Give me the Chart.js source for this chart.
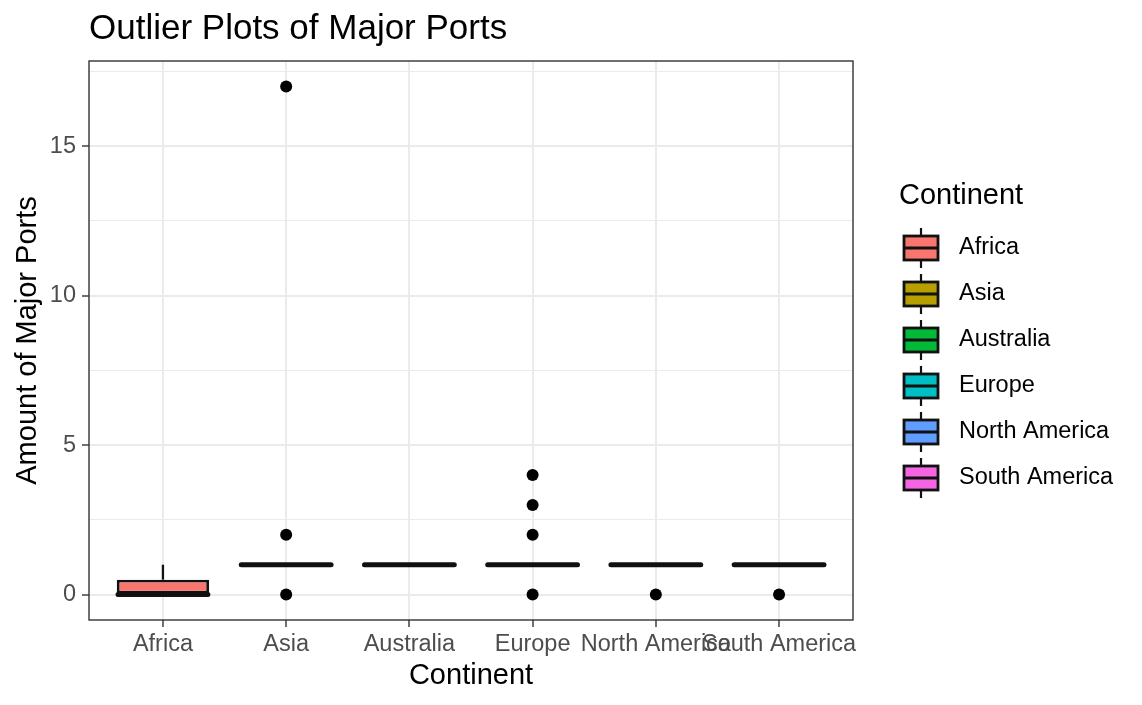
<!DOCTYPE html>
<html><head><meta charset="utf-8">
<script src="https://cdn.jsdelivr.net/npm/chart.js@4/dist/chart.umd.min.js"></script>
<style>html,body{margin:0;padding:0;background:#fff}canvas{display:block}</style>
</head><body>
<canvas id="c" width="1142" height="705"></canvas>
<script>
const chartTitle = 'Outlier Plots of Major Ports';
const xTitle = 'Continent';
const yTitle = 'Amount of Major Ports';
const legendTitle = 'Continent';
const categories = ['Africa', 'Asia', 'Australia', 'Europe', 'North America', 'South America'];
const q1 = [0, 1, 1, 1, 1, 1];
const medians = [0, 1, 1, 1, 1, 1];
const q3 = [0.5, 1, 1, 1, 1, 1];
const whiskerLow = [0, 1, 1, 1, 1, 1];
const whiskerHigh = [1, 1, 1, 1, 1, 1];
const outliers = [[], [17, 2, 0], [], [4, 3, 2, 0], [0], [0]];
const fillColors = ['#F8766D', '#B79F00', '#00BA38', '#00BFC4', '#619CFF', '#F564E3'];
const yMajorTicks = [0, 5, 10, 15];

const FONT = "'Liberation Sans', Arial, Helvetica, sans-serif";
const INK = '#111111';

const boxData = categories.map((c, i) => ({ x: i + 1, y: [q1[i], q3[i]] }));
const outlierData = outliers.flatMap((arr, i) => arr.map(v => ({ x: i + 1, y: v })));

const boxPlugin = {
  id: 'boxParts',
  beforeDatasetsDraw(chart) {
    const { ctx, scales: { x, y } } = chart;
    ctx.save();
    ctx.strokeStyle = INK;
    ctx.lineWidth = 2.3;
    categories.forEach((c, i) => {
      const px = x.getPixelForValue(i + 1);
      ctx.beginPath();
      ctx.moveTo(px, y.getPixelForValue(q3[i]));
      ctx.lineTo(px, y.getPixelForValue(whiskerHigh[i]));
      ctx.moveTo(px, y.getPixelForValue(q1[i]));
      ctx.lineTo(px, y.getPixelForValue(whiskerLow[i]));
      ctx.stroke();
    });
    ctx.restore();
  },
  afterDatasetsDraw(chart) {
    const { ctx, scales: { x, y }, chartArea: a } = chart;
    const meta = chart.getDatasetMeta(0);
    ctx.save();
    ctx.strokeStyle = INK;
    ctx.lineWidth = 5;
    ctx.lineCap = 'round';
    categories.forEach((c, i) => {
      const px = x.getPixelForValue(i + 1);
      const half = meta.data[i].width / 2;
      const py = y.getPixelForValue(medians[i]);
      ctx.beginPath();
      ctx.moveTo(px - half + 1.3, py);
      ctx.lineTo(px + half - 1.3, py);
      ctx.stroke();
    });
    // panel border
    ctx.lineCap = 'butt';
    ctx.strokeStyle = '#333333';
    ctx.lineWidth = 1.4;
    ctx.strokeRect(a.left, a.top, a.right - a.left, a.bottom - a.top);
    ctx.restore();
  },
  afterDraw(chart) {
    const { ctx } = chart;
    ctx.save();
    // title
    ctx.fillStyle = '#000';
    ctx.font = '35px ' + FONT;
    ctx.textBaseline = 'middle';
    ctx.textAlign = 'left';
    ctx.fillText(chartTitle, chart.chartArea.left, 29);
    // legend
    ctx.font = '29px ' + FONT;
    ctx.fillText(legendTitle, 899, 196);
    const cx = 921, bw = 34, bh = 24, step = 46, y0 = 248;
    categories.forEach((c, i) => {
      const cy = y0 + i * step;
      ctx.strokeStyle = INK;
      ctx.lineWidth = 2.2;
      ctx.beginPath();
      ctx.moveTo(cx, cy - 20);
      ctx.lineTo(cx, cy + 20);
      ctx.stroke();
      ctx.fillStyle = fillColors[i];
      ctx.fillRect(cx - bw / 2, cy - bh / 2, bw, bh);
      ctx.lineWidth = 2.8;
      ctx.strokeRect(cx - bw / 2, cy - bh / 2, bw, bh);
      ctx.beginPath();
      ctx.moveTo(cx - bw / 2, cy);
      ctx.lineTo(cx + bw / 2, cy);
      ctx.stroke();
      ctx.fillStyle = '#000';
      ctx.font = '23.5px ' + FONT;
      ctx.fillText(c, 959, cy);
    });
    ctx.restore();
  }
};

new Chart(document.getElementById('c'), {
  type: 'bar',
  data: {
    datasets: [
      {
        type: 'bar',
        data: boxData,
        backgroundColor: fillColors,
        borderColor: INK,
        borderWidth: 2.9,
        borderSkipped: false,
        barPercentage: 0.75,
        categoryPercentage: 1,
        grouped: false,
        order: 2
      },
      {
        type: 'scatter',
        data: outlierData,
        pointRadius: 6,
        pointHoverRadius: 6,
        backgroundColor: '#000',
        borderWidth: 0,
        order: 1
      }
    ]
  },
  options: {
    responsive: false,
    animation: false,
    events: [],
    layout: { padding: { left: 0, right: 289, top: 61, bottom: 0 } },
    plugins: { legend: { display: false }, tooltip: { enabled: false }, title: { display: false } },
    scales: {
      x: {
        type: 'linear',
        min: 0.4,
        max: 6.6,
        offset: false,
        afterFit(s) { s.height = 85; },
        ticks: {
          stepSize: 1,
          includeBounds: false,
          autoSkip: false,
          maxRotation: 0,
          minRotation: 0,
          padding: 3,
          color: '#4d4d4d',
          font: { family: FONT, size: 23.5 },
          callback: v => categories[v - 1] ?? ''
        },
        grid: { offset: false, color: '#ebebeb', lineWidth: 2, tickLength: 7, tickColor: '#333333', tickWidth: 1.4 },
        border: { display: false },
        title: { display: true, text: xTitle, color: '#000', font: { family: FONT, size: 29 }, padding: { top: 0, bottom: 12 } }
      },
      y: {
        type: 'linear',
        min: -0.85,
        max: 17.85,
        afterFit(s) { s.width = 89; },
        ticks: {
          stepSize: 2.5,
          includeBounds: false,
          padding: 6,
          color: '#4d4d4d',
          font: { family: FONT, size: 23.5 },
          callback: v => yMajorTicks.includes(v) ? String(v) : ''
        },
        grid: {
          color: '#ebebeb',
          lineWidth: c => (c.tick && yMajorTicks.includes(c.tick.value)) ? 2 : 1,
          tickLength: 7,
          tickColor: c => (c.tick && yMajorTicks.includes(c.tick.value)) ? '#333333' : 'rgba(0,0,0,0)',
          tickWidth: 1.4
        },
        border: { display: false },
        title: { display: true, text: yTitle, color: '#000', font: { family: FONT, size: 29 }, padding: { top: 11, bottom: 0 } }
      }
    }
  },
  plugins: [boxPlugin]
});
</script>
</body></html>
